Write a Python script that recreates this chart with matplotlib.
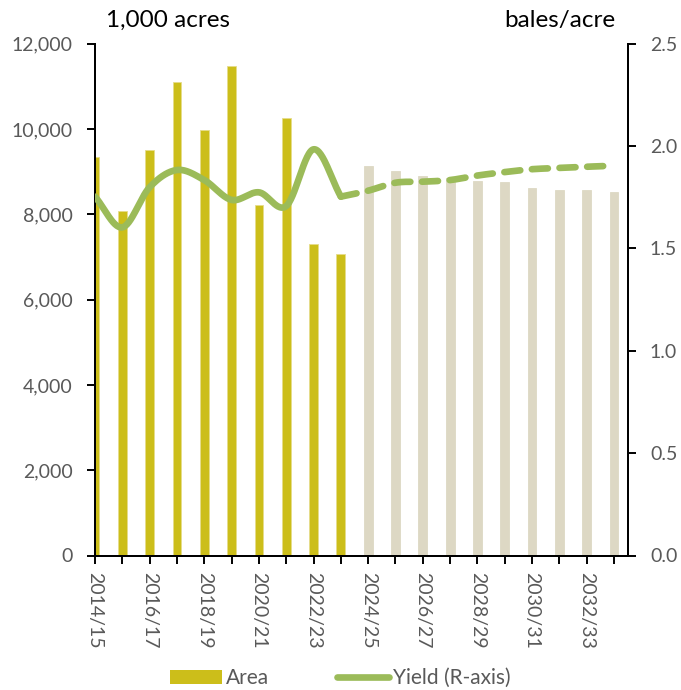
import numpy as np
import matplotlib
matplotlib.use("Agg")
import matplotlib.pyplot as plt
from matplotlib.patches import Patch
from matplotlib.lines import Line2D
from matplotlib.ticker import FuncFormatter, MultipleLocator

# ---------------- data ----------------
years = ["2014/15", "2015/16", "2016/17", "2017/18", "2018/19", "2019/20",
         "2020/21", "2021/22", "2022/23", "2023/24", "2024/25", "2025/26",
         "2026/27", "2027/28", "2028/29", "2029/30", "2030/31", "2031/32",
         "2032/33", "2033/34"]
area_hist = [9350, 8075, 9500, 11095, 9985, 11485, 8215, 10260, 7295, 7070]
area_proj = [9140, 9015, 8905, 8840, 8780, 8755, 8615, 8570, 8570, 8525]
yield_hist = [1.753, 1.603, 1.799, 1.883, 1.834, 1.737, 1.774, 1.707, 1.984, 1.753]
yield_proj = [1.782, 1.821, 1.826, 1.834, 1.856, 1.873, 1.887, 1.893, 1.899, 1.904]

GOLD = "#CCBE1A"
BEIGE = "#DDD8C4"
GREEN = "#9BBB59"
GRAY = "#595959"
FONT = ["Lato", "DejaVu Sans"]
plt.rcParams["font.family"] = FONT


def catmull_rom(xs, ys, n=30):
    xs = np.asarray(xs, float)
    ys = np.asarray(ys, float)
    P = np.column_stack([xs, ys])
    P = np.vstack([2 * P[0] - P[1], P, 2 * P[-1] - P[-2]])
    out = []
    for i in range(1, len(P) - 2):
        p0, p1, p2, p3 = P[i - 1], P[i], P[i + 1], P[i + 2]
        t = np.linspace(0, 1, n, endpoint=False)[:, None]
        c = 0.5 * ((2 * p1) + (-p0 + p2) * t + (2 * p0 - 5 * p1 + 4 * p2 - p3) * t ** 2
                   + (-p0 + 3 * p1 - 3 * p2 + p3) * t ** 3)
        out.append(c)
    out.append(P[-2][None, :])
    out = np.vstack(out)
    return out[:, 0], out[:, 1]


W, H = 681, 690
fig = plt.figure(figsize=(W / 100, H / 100), dpi=100)
L, R, T, B = 95, 627.7, 43.7, 555.5
ax = fig.add_axes([L / W, 1 - B / H, (R - L) / W, (B - T) / H])
ax2 = ax.twinx()

n_hist = len(area_hist)
x_all = np.arange(len(years))
x_hist = x_all[:n_hist]
x_proj = x_all[n_hist:]

bw = 0.32
ax.bar(x_hist, area_hist, width=bw, color=GOLD, edgecolor="#E6DC8A", linewidth=0.6, zorder=2)
ax.bar(x_proj, area_proj, width=bw, color=BEIGE, edgecolor=BEIGE, linewidth=0.6, zorder=2)

ax.set_xlim(0, 19.5)
ax.set_ylim(0, 12000)
ax.yaxis.set_major_locator(MultipleLocator(2000))
ax.yaxis.set_major_formatter(FuncFormatter(lambda v, p: f"{int(v):,}"))

ax2.set_ylim(0, 2.5)
ax2.yaxis.set_major_locator(MultipleLocator(0.5))
ax2.yaxis.set_major_formatter(FuncFormatter(lambda v, p: f"{v:.1f}"))

# yield lines (smoothed)
sx, sy = catmull_rom(x_hist, yield_hist)
ax2.plot(sx, sy, color=GREEN, lw=4.8, solid_capstyle="round", zorder=3)
dx, dy = catmull_rom(np.r_[x_hist[-1], x_proj], np.r_[yield_hist[-1], yield_proj])
ax2.plot(dx, dy, color=GREEN, lw=4.8, dashes=(2.4, 1.75), dash_capstyle="round", zorder=3)

# x ticks
ax.set_xticks(x_all)
ax.set_xticklabels([y if i % 2 == 0 else "" for i, y in enumerate(years)],
                   rotation=-90, va="top", ha="center")

for a in (ax, ax2):
    a.spines["top"].set_visible(False)
    for s in ("left", "right", "bottom"):
        a.spines[s].set_linewidth(1.4)
        a.spines[s].set_color("black")
    a.set_zorder(1)
ax2.set_zorder(2)
ax.patch.set_visible(False)

ax.tick_params(axis="y", direction="out", length=6, width=1.4, pad=10,
               labelsize=14, labelcolor=GRAY)
ax.tick_params(axis="x", direction="out", length=6, width=1.4, pad=6,
               labelsize=14, labelcolor=GRAY)
ax2.tick_params(axis="y", direction="out", length=6, width=1.4, pad=10,
                labelsize=14, labelcolor=GRAY)

fig.text(106 / W, 1 - 20 / H, "1,000 acres", fontsize=17.5, color="black",
         ha="left", va="center")
fig.text(615 / W, 1 - 21 / H, "bales/acre", fontsize=17.5, color="black",
         ha="right", va="center")

handles = [Patch(facecolor=GOLD, edgecolor="none"),
           Line2D([], [], color=GREEN, lw=4.8, solid_capstyle="round")]
fig.legend(handles, ["Area", "Yield (R-axis)"], loc="center",
           bbox_to_anchor=(340.5 / W, 1 - 678 / H), ncol=2, frameon=False,
           fontsize=15, labelcolor=GRAY, handlelength=2.5, handleheight=0.65,
           handletextpad=0.2, columnspacing=3.25, borderpad=0, borderaxespad=0)

fig.savefig("out.png", dpi=100)
